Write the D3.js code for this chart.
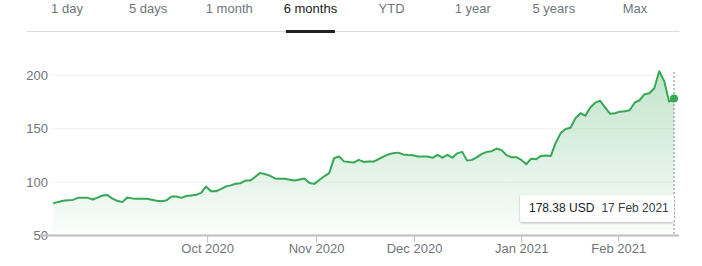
<!DOCTYPE html>
<html>
<head>
<meta charset="utf-8">
<script src="https://cdn.jsdelivr.net/npm/d3@7"></script>
<style>
  body { margin: 0; background: #fff; }
  svg { display: block; font-family: "Liberation Sans", Arial, sans-serif; }
</style>
</head>
<body>
<svg class="chart" width="702" height="266"></svg>
<script>
// tabs across the top
let tabs = ['1 day', '5 days', '1 month', '6 months', 'YTD', '1 year', '5 years', 'Max'];
let activeTab = '6 months';

// closing prices, one per trading day from 17 Aug 2020 to 17 Feb 2021
let closes = [
  80.3, 81.5, 82.5, 83, 83.4, 85.3, 85.3, 85.3, 83.7, 85.5,
  87.5, 88, 84.6, 82.5, 81.3, 85.6, 84.8, 84.4, 84.4, 84.4,
  83.5, 82.6, 82.2, 83, 86.5, 86.5, 85.3, 87, 87.5, 88.1,
  90, 95.9, 91.5, 91.5, 93.5, 95.9, 97, 98.5, 99, 101.5,
  101.5, 105, 108.7, 107.5, 106, 103.5, 103.1, 103.1, 102.3, 101.5,
  102.5, 103.4, 99.3, 98.4, 102, 105.5, 108.4, 122.5, 124, 119.5,
  118.8, 118.4, 120.9, 119, 119.3, 119.3, 121.5, 124, 126, 127.2,
  127.7, 126, 125.5, 125.3, 124, 124, 124, 122.8, 125.6, 123,
  125.6, 123, 127, 128.4, 120.2, 120.9, 123.5, 126.5, 128.4, 129,
  131.5, 130, 125.3, 123.4, 123.4, 120.9, 116.8, 122, 121.5, 124.6,
  124.9, 124.6, 137, 146, 149.8, 151, 160, 164.6, 162.4, 170,
  174.5, 176.4, 170.2, 164.2, 164.6, 166.1, 166.5, 167.4, 174.5, 176.8,
  182.4, 183.3, 188, 204, 195, 175.5, 178.38
];

// market holidays inside the range
let holidays = ['2020-09-07', '2020-11-26', '2020-12-25', '2021-01-01', '2021-01-18', '2021-02-15'];
let firstDay = '2020-08-17';
let lastDay = '2021-02-17';

let yTicks = [50, 100, 150, 200];
let monthTicks = ['2020-10-01', '2020-11-01', '2020-12-01', '2021-01-01', '2021-02-01'];

let currency = 'USD';

// trading days (close at 16:00)
let parse = d3.utcParse('%Y-%m-%d');
let fmt = d3.utcFormat('%Y-%m-%d');
let dates = d3.utcDays(parse(firstDay), d3.utcDay.offset(parse(lastDay), 1))
  .filter(d => d.getUTCDay() % 6 !== 0 && !holidays.includes(fmt(d)))
  .map(d => d3.utcHour.offset(d, 16));

let data = closes.map((v, i) => ({ i: i, date: dates[i], value: v }));
let last = data[data.length - 1];

let svg = d3.select('svg.chart');

let x = d3.scaleLinear().domain([0, data.length - 1]).range([53.3, 674]);
let y = d3.scaleLinear().domain([50, 200]).range([235.5, 75.5]);

// fractional index for a calendar moment, so month ticks sit between trading days
function indexOf(t) {
  let j = d3.bisectLeft(dates, t);
  if (j <= 0) return 0;
  let a = dates[j - 1], b = dates[j];
  return j - 1 + (t - a) / (b - a);
}

// ---- tabs ----
let tabX = d3.scalePoint().domain(tabs).range([67, 635]);
svg.append('line')
  .attr('x1', 27).attr('x2', 679).attr('y1', 31.5).attr('y2', 31.5)
  .style('stroke', '#dadce0').style('stroke-width', 1);

svg.selectAll('text.tab')
  .data(tabs)
  .enter()
  .append('text')
  .attr('class', 'tab')
  .attr('x', d => tabX(d))
  .attr('y', 13)
  .attr('text-anchor', 'middle')
  .style('font-size', '13px')
  .style('fill', d => d === activeTab ? '#202124' : '#70757a')
  .text(d => d);

svg.append('rect')
  .attr('x', tabX(activeTab) - 24.5).attr('y', 30)
  .attr('width', 49).attr('height', 3)
  .style('fill', '#202124');

// ---- grid + y labels ----
svg.selectAll('line.grid')
  .data(yTicks.filter(d => d !== 50))
  .enter()
  .append('line')
  .attr('class', 'grid')
  .attr('x1', 50).attr('x2', 679)
  .attr('y1', d => y(d)).attr('y2', d => y(d))
  .style('stroke', '#f1f1f1').style('stroke-width', 1);

svg.selectAll('text.ylab')
  .data(yTicks)
  .enter()
  .append('text')
  .attr('class', 'ylab')
  .attr('x', 48)
  .attr('y', d => y(d))
  .attr('dy', '0.35em')
  .attr('text-anchor', 'end')
  .style('font-size', '13px')
  .style('fill', '#70757a')
  .text(d => d);

// ---- area + line ----
let defs = svg.append('defs');
let grad = defs.append('linearGradient')
  .attr('id', 'areaGrad')
  .attr('x1', 0).attr('x2', 0).attr('y1', 0).attr('y2', 1)
  .attr('gradientUnits', 'userSpaceOnUse')
  .attr('y1', y(200)).attr('y2', y(50));
grad.append('stop').attr('offset', '0%').style('stop-color', '#34a853').style('stop-opacity', 0.3);
grad.append('stop').attr('offset', '100%').style('stop-color', '#34a853').style('stop-opacity', 0.02);

let shadow = defs.append('filter').attr('id', 'shadow')
  .attr('x', '-10%').attr('y', '-30%').attr('width', '120%').attr('height', '170%');
shadow.append('feDropShadow')
  .attr('dx', 0).attr('dy', 1).attr('stdDeviation', 1.2)
  .style('flood-color', '#000').style('flood-opacity', 0.28);

let area = d3.area()
  .x(d => x(d.i))
  .y0(y(50))
  .y1(d => y(d.value));

let line = d3.line()
  .x(d => x(d.i))
  .y(d => y(d.value));

svg.append('path')
  .datum(data)
  .attr('d', area)
  .style('fill', 'url(#areaGrad)');

// ---- x axis ----
svg.append('line')
  .attr('x1', 40).attr('x2', 679).attr('y1', y(50)).attr('y2', y(50))
  .style('stroke', '#bdbdbd').style('stroke-width', 2);

let ticks = monthTicks.map(parse);
svg.selectAll('line.xtick')
  .data(ticks)
  .enter()
  .append('line')
  .attr('class', 'xtick')
  .attr('x1', d => x(indexOf(d))).attr('x2', d => x(indexOf(d)))
  .attr('y1', y(50)).attr('y2', y(50) + 7)
  .style('stroke', '#bdbdbd').style('stroke-width', 1);

svg.selectAll('text.xlab')
  .data(ticks)
  .enter()
  .append('text')
  .attr('class', 'xlab')
  .attr('x', d => x(indexOf(d)))
  .attr('y', 253)
  .attr('text-anchor', 'middle')
  .style('font-size', '13px')
  .style('fill', '#70757a')
  .text(d => d3.utcFormat('%b %Y')(d));

// dotted hover line
svg.append('line')
  .attr('x1', x(last.i)).attr('x2', x(last.i))
  .attr('y1', 72).attr('y2', y(50))
  .style('stroke', '#80868b').style('stroke-width', 1)
  .style('stroke-dasharray', '2,2');

svg.append('path')
  .datum(data)
  .attr('d', line)
  .style('fill', 'none')
  .style('stroke', '#34a853')
  .style('stroke-width', 2)
  .style('stroke-linejoin', 'round');

svg.append('circle')
  .attr('cx', x(last.i)).attr('cy', y(last.value))
  .attr('r', 4)
  .style('fill', '#34a853');

// ---- tooltip ----
let tip = svg.append('g').attr('transform', 'translate(520,195)');
tip.append('rect')
  .attr('width', 154).attr('height', 27).attr('rx', 2)
  .style('fill', '#fff')
  .attr('filter', 'url(#shadow)');
let tipText = tip.append('text')
  .attr('x', 9).attr('y', 16.5)
  .style('font-size', '12px');
tipText.append('tspan')
  .style('fill', '#202124')
  .text(last.value.toFixed(2) + ' ' + currency);
tipText.append('tspan')
  .attr('dx', 7)
  .style('fill', '#3c4043')
  .text(d3.utcFormat('%-d %b %Y')(last.date));
</script>
</body>
</html>
